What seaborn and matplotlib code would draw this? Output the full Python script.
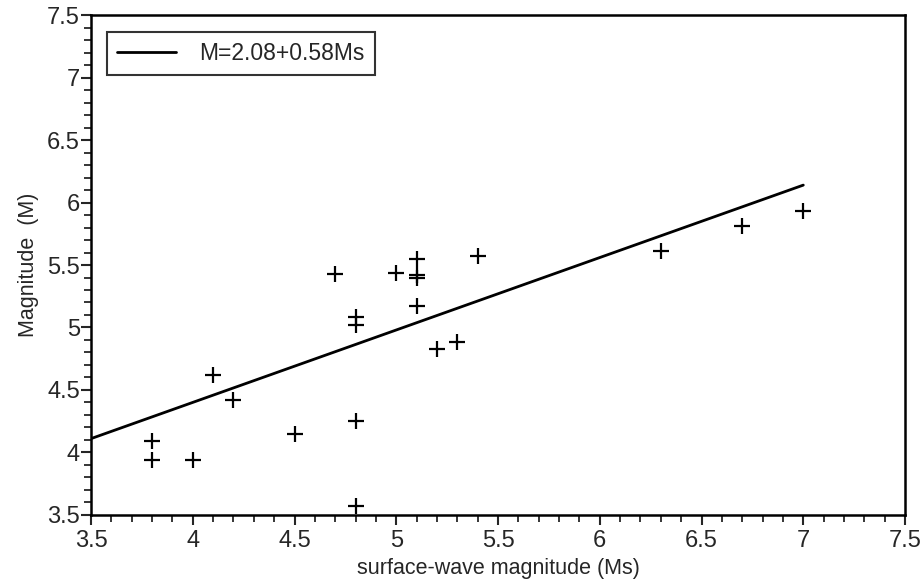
import numpy as np
import pandas as pd
import matplotlib
matplotlib.use('Agg')
import matplotlib.pyplot as plt
import seaborn as sns
from matplotlib.ticker import MultipleLocator, FormatStrFormatter

# data (corrected for the slight tilt of the page)
ms = [3.8, 3.8, 4.0, 4.1, 4.2, 4.5, 4.7, 4.8, 4.8, 4.8, 4.8, 5.0, 5.1, 5.1, 5.1, 5.1,
      5.2, 5.3, 5.4, 6.3, 6.7, 7.0]
mag = [4.09, 3.94, 3.94, 4.62, 4.42, 4.15, 5.43, 4.25, 5.08, 5.02, 3.57, 5.44, 5.55,
       5.42, 5.40, 5.17, 4.83, 4.88, 5.57, 5.61, 5.81, 5.93]
fit_a, fit_b = 2.08, 0.58
fit_x = [3.5, 7.0]
fit_y = [fit_a + fit_b * x for x in fit_x]

sns.set_style('ticks')
plt.rcParams['font.family'] = ['Liberation Sans', 'DejaVu Sans']

fig = plt.figure(figsize=(9.24, 5.87), dpi=100)
ax = fig.add_axes([0.0985, 0.123, 0.881, 0.851])

pts = pd.DataFrame({'Ms': ms, 'M': mag})
line = pd.DataFrame({'Ms': fit_x, 'M': fit_y})

sns.lineplot(data=line, x='Ms', y='M', ax=ax, color='black', linewidth=2,
             label='M=2.08+0.58Ms')
sns.scatterplot(data=pts, x='Ms', y='M', ax=ax, marker='+', color='black',
                s=130, linewidth=1.6, legend=False)

ax.set_xlim(3.5, 7.5)
ax.set_ylim(3.5, 7.5)
ax.xaxis.set_major_locator(MultipleLocator(0.5))
ax.yaxis.set_major_locator(MultipleLocator(0.5))
ax.xaxis.set_minor_locator(MultipleLocator(0.1))
ax.yaxis.set_minor_locator(MultipleLocator(0.1))
ax.xaxis.set_major_formatter(FormatStrFormatter('%g'))
ax.yaxis.set_major_formatter(FormatStrFormatter('%g'))
ax.tick_params(which='major', length=7, width=1.5, labelsize=17, direction='out')
ax.tick_params(axis='x', which='major', pad=4)
ax.tick_params(axis='y', which='major', pad=1)
ax.tick_params(which='minor', length=5, width=1.3, direction='out')
for lbl in ax.get_xticklabels() + ax.get_yticklabels():
    lbl.set_fontweight('medium')
for sp in ax.spines.values():
    sp.set_visible(True)
    sp.set_linewidth(1.8)
    sp.set_color('black')

ax.set_xlabel('surface-wave magnitude (Ms)', fontsize=15.5, labelpad=4)
ax.set_ylabel('Magnitude  (M)', fontsize=15.5, labelpad=6)

leg = ax.legend(loc='upper left', fontsize=16.5, frameon=True, fancybox=False,
                edgecolor='black', handlelength=2.6, borderpad=0.45,
                handletextpad=1.0, bbox_to_anchor=(0.005, 0.99))
leg.get_frame().set_linewidth(1.5)

fig.savefig('out.png', dpi=100)
